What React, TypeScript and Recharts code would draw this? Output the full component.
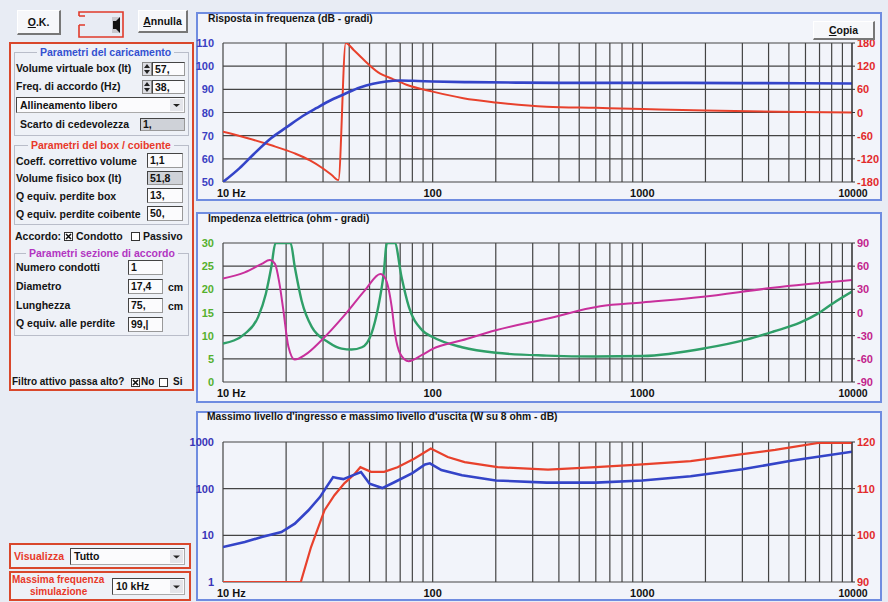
import React from 'react';
import { LineChart, Line, XAxis, YAxis, CartesianGrid } from 'recharts';

// Risposta in frequenza: livello (dB) e fase (gradi)
const splFreq = [10, 12, 14, 17, 20, 24, 28, 33, 38, 45, 52, 60, 70, 85, 100, 150, 250, 400, 1000, 3000, 10000];
const splDb = [50, 56, 62, 69, 73.5, 78.5, 82, 85.5, 88, 90.8, 92.4, 93.4, 93.8, 93.6, 93.4, 93.1, 92.9, 92.8, 92.8, 92.7, 92.5];
const phaseFreq = [10, 13, 17, 22, 26, 30, 33, 35.5, 38.5, 42, 46, 55, 65, 75, 100, 140, 200, 350, 600, 1000, 2000, 4500, 10000];
const phaseDeg = [-50, -66, -85, -106, -124, -145, -162, -175, 180, 162, 141, 104, 86, 72, 54, 37, 26, 15, 12, 9, 5, 2, 0];

// Impedenza elettrica: modulo (ohm) e fase (gradi)
const impFreq = [10, 12.7, 14.7, 16, 17, 17.8, 21, 22, 23.7, 26.5, 31.8, 36.8, 41, 46, 51, 55, 58.4, 60.5, 66, 71, 77, 89, 100, 138, 200, 350, 600, 1000, 2000, 3160, 4220, 5650, 6840, 8130, 10000];
const impOhm = [8.3, 10.4, 14, 19, 24.8, 30, 30, 24.8, 17.6, 11.9, 8.6, 7.2, 7, 7.5, 10.4, 16.2, 23.4, 30, 30, 22.7, 16.2, 11.2, 9.7, 7.5, 6.3, 5.7, 5.5, 5.6, 7.3, 9.2, 10.9, 12.8, 14.7, 17, 19.5];
const impPhaseFreq = [10, 12.7, 15.3, 16.7, 17.7, 18.6, 19.4, 20.5, 22, 24.6, 29.5, 38, 47.6, 56.3, 59.5, 63.8, 66.2, 69.9, 76.8, 89, 100, 138, 200, 350, 630, 1000, 1900, 4200, 10000];
const impPhaseDeg = [44, 52, 63, 68, 63, 37, 3, -44, -61, -55, -36, -3.5, 29, 50, 44, 7, -28, -53, -63, -55, -47, -36, -23, -8, 8, 13, 20, 32, 42];

// Massimo livello d'ingresso (W) e d'uscita (dB)
const inFreq = [10, 12.7, 15.3, 19, 22, 25.5, 29, 31.3, 33.5, 35, 37.5, 41.5, 45.5, 50, 57.5, 66, 80, 92, 97, 110, 138, 200, 350, 600, 1000, 1700, 3000, 5200, 10000];
const inWatt = [5.6, 7.2, 9.2, 11.8, 17.8, 34, 66, 112, 177, 170, 160, 193, 228, 128, 103, 139, 216, 330, 350, 250, 193, 150, 135, 135, 150, 185, 260, 400, 620];
const outFreq = [10, 23.5, 26.3, 30.5, 34, 38, 42.3, 45.2, 50.8, 58.7, 68, 81.6, 98, 118, 142, 204, 355, 600, 1000, 1700, 3000, 4300, 6900, 10000];
const outDb = [90, 90, 97.5, 105.4, 108.6, 111.2, 113.1, 114.6, 113.6, 113.6, 114.6, 116.4, 118.6, 116.8, 115.7, 114.6, 114.1, 114.6, 115.2, 115.9, 117.4, 118.3, 119.8, 119.8];

const freqGrid = [10, 20, 30, 40, 50, 60, 70, 80, 90, 100, 200, 300, 400, 500, 600, 700, 800, 900, 1000, 2000, 3000, 4000, 5000, 6000, 7000, 8000, 9000, 10000];
const freqLabels: Record<number, string> = { 10: '10 Hz', 100: '100', 1000: '1000', 10000: '10000' };

const splTicks = [50, 60, 70, 80, 90, 100, 110];
const phaseTicks = [-180, -120, -60, 0, 60, 120, 180];
const ohmTicks = [0, 5, 10, 15, 20, 25, 30];
const impPhaseTicks = [-90, -60, -30, 0, 30, 60, 90];
const wattTicks = [1, 10, 100, 1000];
const outTicks = [90, 100, 110, 120];

const F = 'Arial, "Liberation Sans", Helvetica, sans-serif';
const zip = (fs: number[], vs: number[]) => fs.map((f, i) => ({ f, v: vs[i] }));

const freqTick = (p: any) => {
  const label = freqLabels[p.payload.value];
  if (!label) return <g />;
  const first = p.payload.value === 10;
  const last = p.payload.value === 10000;
  return (
    <text x={first ? p.x - 6 : last ? p.x + 1 : p.x} y={p.y} dy={15} textAnchor={first ? 'start' : 'middle'}
      fill="#111" fontSize={last ? 10.5 : 11} fontWeight={700} fontFamily={F}>{label}</text>
  );
};

const yTick = (color: string) => (p: any) => (
  <text x={p.x} y={p.y} dy={4} textAnchor={p.textAnchor} fill={color} fontSize={11} fontWeight={700} fontFamily={F}>
    {p.payload.value}
  </text>
);

type Series = { data: { f: number; v: number }[]; color: string; width: number; axis: 'left' | 'right' };

function FreqChart(props: {
  top: number; height: number; mb: number;
  leftDomain: number[]; leftTicks: number[]; leftLog?: boolean; leftColor: string;
  rightDomain: number[]; rightTicks: number[]; rightColor: string;
  series: Series[]; curve: 'monotone' | 'linear';
}) {
  return (
    <div style={{ position: 'absolute', left: 196, top: props.top }}>
      <LineChart width={686} height={props.height} margin={{ top: 31, right: 4, bottom: props.mb, left: 3 }}>
        <CartesianGrid yAxisId="left" stroke="#444" strokeWidth={1.2} />
        <XAxis dataKey="f" type="number" scale="log" domain={[10, 10000]} allowDataOverflow ticks={freqGrid}
          interval={0} tick={freqTick} tickLine={false} axisLine={false} height={16} tickSize={0} tickMargin={0} />
        <YAxis yAxisId="left" orientation="left" width={24} type="number" scale={props.leftLog ? 'log' : 'auto'}
          domain={props.leftDomain} allowDataOverflow ticks={props.leftTicks} interval={0}
          tick={yTick(props.leftColor)} tickLine={false} axisLine={false} tickMargin={3} />
        <YAxis yAxisId="right" orientation="right" width={26} type="number" domain={props.rightDomain}
          allowDataOverflow ticks={props.rightTicks} interval={0} tick={yTick(props.rightColor)}
          tickSize={3} tickMargin={2} axisLine={{ stroke: '#333' }} tickLine={{ stroke: '#333' }} />
        {props.series.map((s, i) => (
          <Line key={i} yAxisId={s.axis} data={s.data} dataKey="v" type={props.curve} stroke={s.color}
            strokeWidth={s.width} dot={false} isAnimationActive={false} />
        ))}
      </LineChart>
    </div>
  );
}

function Txt({ x, y, c = '#141414', s = 10.5, w, center, bg, children }: any) {
  return (
    <div style={{
      position: 'absolute', left: x, top: y - 7, width: w, height: 14, lineHeight: '14px', fontSize: s,
      fontWeight: 700, color: c, whiteSpace: 'nowrap', textAlign: center ? 'center' : 'left', fontFamily: F,
      background: bg,
    }}>{children}</div>
  );
}

function Field({ x, y, w, h, v, grey }: any) {
  return (
    <div style={{
      position: 'absolute', left: x, top: y, width: w, height: h, boxSizing: 'border-box',
      background: grey ? '#cfd2d8' : '#fbfbfd', borderTop: '1px solid #444', borderLeft: '1px solid #444',
      borderRight: '1px solid #999', borderBottom: '1px solid #999', fontFamily: F, fontWeight: 700,
      fontSize: 10.5, lineHeight: `${h - 2}px`, paddingLeft: 2, color: '#111', whiteSpace: 'nowrap',
    }}>{v}</div>
  );
}

function Spin({ x, y }: any) {
  return (
    <svg style={{ position: 'absolute', left: x, top: y }} width={10} height={14}>
      <rect x={0.5} y={0.5} width={9} height={13} fill="#dcdde3" stroke="#888" />
      <polygon points="2,6 5,2 8,6" fill="#222" />
      <polygon points="2,8 8,8 5,12" fill="#222" />
    </svg>
  );
}

function Combo({ x, y, w, h, v }: any) {
  return (
    <div style={{
      position: 'absolute', left: x, top: y, width: w, height: h, boxSizing: 'border-box',
      background: '#fbfbfd', borderTop: '1px solid #444', borderLeft: '1px solid #444',
      borderRight: '1px solid #aaa', borderBottom: '1px solid #aaa', fontFamily: F, fontWeight: 700,
      fontSize: 10.5, lineHeight: `${h - 2}px`, paddingLeft: 3, color: '#111',
    }}>
      {v}
      <svg style={{ position: 'absolute', right: 1, top: 1 }} width={13} height={h - 4}>
        <rect x={0} y={0} width={13} height={h - 4} fill="#e4e5ea" />
        <polygon points={`3,${(h - 4) / 2 - 1} 10,${(h - 4) / 2 - 1} 6.5,${(h - 4) / 2 + 2}`} fill="#222" />
      </svg>
    </div>
  );
}

function Check({ x, y, on }: any) {
  return (
    <svg style={{ position: 'absolute', left: x, top: y }} width={9} height={9}>
      <rect x={0.5} y={0.5} width={8} height={8} fill="#fff" stroke="#333" />
      {on && <path d="M2,2 L7,7 M7,2 L2,7" stroke="#111" strokeWidth={1.6} />}
    </svg>
  );
}

function Btn({ x, y, w, h, children }: any) {
  return (
    <div style={{
      position: 'absolute', left: x, top: y, width: w, height: h, boxSizing: 'border-box',
      background: '#f6f7fa', borderTop: '1px solid #fff', borderLeft: '1px solid #fff',
      borderRight: '2px solid #777', borderBottom: '2px solid #777', fontFamily: F, fontWeight: 700,
      fontSize: 10.5, lineHeight: `${h - 3}px`, textAlign: 'center', color: '#111',
    }}>{children}</div>
  );
}

function Frame({ x, y, w, h }: any) {
  return <div style={{ position: 'absolute', left: x, top: y, width: w, height: h, border: '1px solid #b9bdc9', boxSizing: 'border-box' }} />;
}

function Panel({ top, height }: any) {
  return (
    <div style={{
      position: 'absolute', left: 196, top, width: 686, height, boxSizing: 'border-box',
      border: '2px solid #6f8ce0', background: '#f2f4fa',
    }} />
  );
}

const panelBg = '#eef1f7';

export default function App() {
  return (
    <div style={{ position: 'absolute', left: 0, top: 0, width: 888, height: 602, background: '#e8ecf4', overflow: 'hidden', fontFamily: F }}>
      <style>{'svg.recharts-surface { overflow: visible; }'}</style>
      {/* pulsanti in alto */}
      <Btn x={17} y={10} w={44} h={25}><u>O</u>.K.</Btn>
      <svg style={{ position: 'absolute', left: 76, top: 10 }} width={50} height={30}>
        <path d="M3,6 L3,2 L47,2 L47,27 L3,27 L3,15 M3,6 L9,6 M3,15 L9,15" fill="none" stroke="#e03a2a" strokeWidth={1.6} />
        <rect x={36} y={7} width={8} height={16} fill="#c8c9cf" />
        <rect x={37} y={11} width={3} height={8} fill="#111" />
        <polygon points="40,11 44,7 44,23 40,19" fill="#111" />
      </svg>
      <Btn x={138} y={10} w={50} h={23}><u>A</u>nnulla</Btn>

      {/* riquadro parametri */}
      <div style={{ position: 'absolute', left: 9, top: 42, width: 185, height: 349, border: '2px solid #d9472b', boxSizing: 'border-box', background: panelBg }} />
      <Frame x={14} y={52} w={175} h={84} />
      <Txt x={37} y={52} c="#3451d1" bg={panelBg}>&nbsp;Parametri del caricamento&nbsp;</Txt>
      <Txt x={16} y={68}>Volume virtuale box (lt)</Txt>
      <Spin x={142} y={62} />
      <Field x={152} y={62} w={33} h={14} v="57," />
      <Txt x={16} y={86}>Freq. di accordo (Hz)</Txt>
      <Spin x={142} y={80} />
      <Field x={152} y={80} w={33} h={14} v="38," />
      <Combo x={16} y={97} w={169} h={16} v="Allineamento libero" />
      <Txt x={20} y={124}>Scarto di cedevolezza</Txt>
      <Field x={140} y={118} w={45} h={13} v="1," grey />

      <Frame x={14} y={145} w={175} h={80} />
      <Txt x={28} y={145} c="#e8392a" bg={panelBg}>&nbsp;Parametri del box / coibente&nbsp;</Txt>
      <Txt x={16} y={161}>Coeff. correttivo volume</Txt>
      <Field x={147} y={153} w={36} h={15} v="1,1" />
      <Txt x={16} y={178}>Volume fisico box (lt)</Txt>
      <Field x={147} y={171} w={36} h={14} v="51,8" grey />
      <Txt x={16} y={196}>Q equiv. perdite box</Txt>
      <Field x={147} y={188} w={36} h={15} v="13," />
      <Txt x={16} y={214}>Q equiv. perdite coibente</Txt>
      <Field x={147} y={206} w={36} h={15} v="50," />

      <Txt x={15} y={236}>Accordo:</Txt>
      <Check x={64} y={232} on />
      <Txt x={76} y={236}>Condotto</Txt>
      <Check x={131} y={232} />
      <Txt x={143} y={236}>Passivo</Txt>

      <Frame x={14} y={253} w={175} h={83} />
      <Txt x={26} y={253} c="#b236c2" bg={panelBg}>&nbsp;Parametri sezione di accordo&nbsp;</Txt>
      <Txt x={16} y={267}>Numero condotti</Txt>
      <Field x={128} y={260} w={35} h={15} v="1" />
      <Txt x={16} y={286}>Diametro</Txt>
      <Field x={128} y={279} w={35} h={15} v="17,4" />
      <Txt x={168} y={287}>cm</Txt>
      <Txt x={16} y={305}>Lunghezza</Txt>
      <Field x={128} y={298} w={35} h={15} v="75," />
      <Txt x={168} y={306}>cm</Txt>
      <Txt x={16} y={323}>Q equiv. alle perdite</Txt>
      <Field x={128} y={317} w={35} h={15} v="99,|" />

      <Txt x={12} y={382} s={10}>Filtro attivo passa alto?</Txt>
      <Check x={131} y={378} on />
      <Txt x={141} y={382} s={10}>No</Txt>
      <Check x={159} y={378} />
      <Txt x={173} y={382} s={10}>Si</Txt>

      {/* riquadri in basso */}
      <div style={{ position: 'absolute', left: 9, top: 543, width: 182, height: 26, border: '2px solid #d9472b', boxSizing: 'border-box', background: panelBg }} />
      <Txt x={14} y={556} c="#e8392a">Visualizza</Txt>
      <Combo x={70} y={548} w={115} h={17} v="Tutto" />
      <div style={{ position: 'absolute', left: 9, top: 571, width: 182, height: 30, border: '2px solid #d9472b', boxSizing: 'border-box', background: panelBg }} />
      <Txt x={12} y={580} c="#e8392a" s={10}>Massima frequenza</Txt>
      <Txt x={30} y={592} c="#e8392a" s={10}>simulazione</Txt>
      <Combo x={112} y={578} w={73} h={17} v="10 kHz" />

      {/* grafici */}
      <Panel top={12} height={189} />
      <Panel top={212} height={191} />
      <Panel top={411} height={190} />

      <FreqChart top={12} height={189} mb={3}
        leftDomain={[50, 110]} leftTicks={splTicks} leftColor="#3b3fc2"
        rightDomain={[-180, 180]} rightTicks={phaseTicks} rightColor="#e22a2a" curve="monotone"
        series={[
          { data: zip(phaseFreq, phaseDeg), color: '#e8412c', width: 2, axis: 'right' },
          { data: zip(splFreq, splDb), color: '#3444c8', width: 2.6, axis: 'left' },
        ]} />
      <FreqChart top={212} height={191} mb={5}
        leftDomain={[0, 30]} leftTicks={ohmTicks} leftColor="#55b02e"
        rightDomain={[-90, 90]} rightTicks={impPhaseTicks} rightColor="#c2238c" curve="monotone"
        series={[
          { data: zip(impFreq, impOhm), color: '#2f9f68', width: 2.4, axis: 'left' },
          { data: zip(impPhaseFreq, impPhaseDeg), color: '#c8309c', width: 2, axis: 'right' },
        ]} />
      <FreqChart top={411} height={190} mb={3}
        leftDomain={[1, 1000]} leftTicks={wattTicks} leftLog leftColor="#3b35b8"
        rightDomain={[90, 120]} rightTicks={outTicks} rightColor="#e22a2a" curve="linear"
        series={[
          { data: zip(outFreq, outDb), color: '#e8412c', width: 2.2, axis: 'right' },
          { data: zip(inFreq, inWatt), color: '#3444c8', width: 2.6, axis: 'left' },
        ]} />

      <Txt x={208} y={19} s={10.3}>Risposta in frequenza (dB - gradi)</Txt>
      <Txt x={208} y={219} s={10.3}>Impedenza elettrica (ohm - gradi)</Txt>
      <Txt x={207} y={417} s={10.3}>Massimo livello d'ingresso e massimo livello d'uscita (W su 8 ohm - dB)</Txt>
      <Btn x={813} y={21} w={62} h={19}><u>C</u>opia</Btn>
    </div>
  );
}
